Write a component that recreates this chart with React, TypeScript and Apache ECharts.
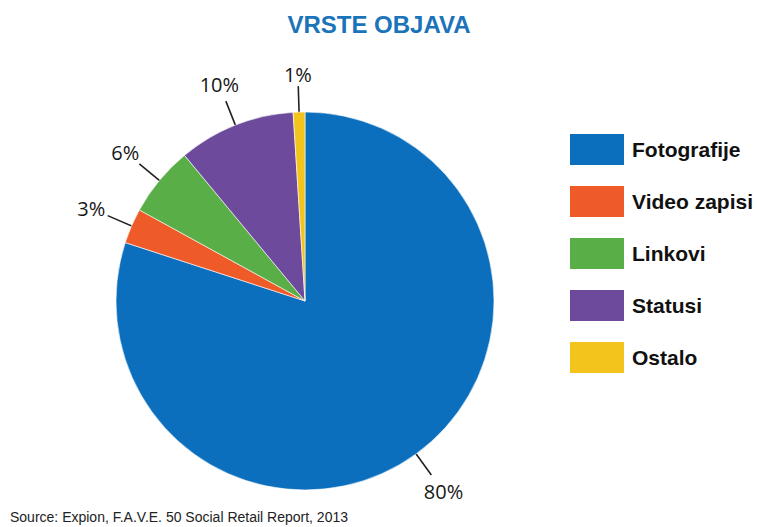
import React, { useEffect, useRef } from "react";
import * as echarts from "echarts";

const categories = ["Fotografije", "Video zapisi", "Linkovi", "Statusi", "Ostalo"];
const shares = [80, 3, 6, 10, 1];
const colors = ["#0b6fbd", "#ef5a29", "#5aae47", "#6e4a9d", "#f3c41c"];
const titleText = "VRSTE OBJAVA";
const sourceText = "Source: Expion, F.A.V.E. 50 Social Retail Report, 2013";

export default function App() {
  const ref = useRef<HTMLDivElement>(null);
  useEffect(() => {
    if (!ref.current) return;
    const chart = echarts.init(ref.current, null, { renderer: "svg" });
    const data = categories.map((name, i) => ({ name, value: shares[i], itemStyle: { color: colors[i] } }));
    const labelLayout = (p: any) => {
      const pts = p.labelLinePoints;
      if (!pts || pts.length < 2) return {};
      const a = pts[0];
      const b = pts[pts.length - 1];
      const dx = b[0] - a[0];
      const dy = b[1] - a[1];
      const len = Math.hypot(dx, dy) || 1;
      const ux = dx / len;
      const uy = dy / len;
      const w = p.labelRect.width;
      const h = p.labelRect.height;
      const off = 0.5 * Math.abs(ux) * w + 0.5 * Math.abs(uy) * h + 1;
      return {
        x: b[0] + ux * off,
        y: b[1] + uy * off,
        align: "center",
        verticalAlign: "middle",
        labelLinePoints: pts,
      };
    };
    chart.setOption({
      animation: false,
      color: colors,
      title: [
        {
          text: titleText,
          left: "center",
          top: 12,
          padding: 0,
          textStyle: { fontFamily: "Liberation Sans, Arial, sans-serif", fontSize: 24, fontWeight: "bold", color: "#1b73ba" },
        },
        {
          text: sourceText,
          left: 10,
          top: 510,
          padding: 0,
          textStyle: { fontFamily: "Liberation Sans, Arial, sans-serif", fontSize: 14, fontWeight: "normal", color: "#222" },
        },
      ],
      legend: {
        orient: "vertical",
        left: 568,
        top: 132,
        padding: 0,
        itemWidth: 56,
        itemHeight: 33,
        itemGap: 17,
        icon: "rect",
        data: categories,
        selectedMode: false,
        textStyle: {
          fontFamily: "Liberation Sans, Arial, sans-serif",
          fontSize: 21,
          fontWeight: "bold",
          color: "#111",
          padding: [0, 0, 0, 2],
        },
      },
      series: [
        {
          type: "pie",
          center: [305, 301],
          radius: 189,
          startAngle: 90,
          clockwise: true,
          silent: true,
          label: { show: false },
          labelLine: { show: false },
          itemStyle: { borderColor: "#ffffff", borderWidth: 0.6 },
          data,
        },
        {
          type: "pie",
          center: [305, 301],
          radius: 173,
          startAngle: 90,
          clockwise: true,
          silent: true,
          avoidLabelOverlap: false,
          itemStyle: { color: "rgba(0,0,0,0)" },
          label: {
            show: true,
            position: "outside",
            formatter: "{c}%",
            fontFamily: "Open Sans, Noto Sans, sans-serif",
            fontSize: 20,
            color: "#161616",
          },
          labelLine: {
            show: true,
            length: 42,
            length2: 0,
            smooth: false,
            lineStyle: { color: "#222", width: 1.6 },
          },
          labelLayout,
          data: categories.map((name, i) => ({ name, value: shares[i] })),
        },
      ],
    });
    return () => chart.dispose();
  }, []);
  return (
    <div
      ref={ref}
      style={{ position: "fixed", left: 0, top: 0, width: 758, height: 527, background: "#fff" }}
    />
  );
}
